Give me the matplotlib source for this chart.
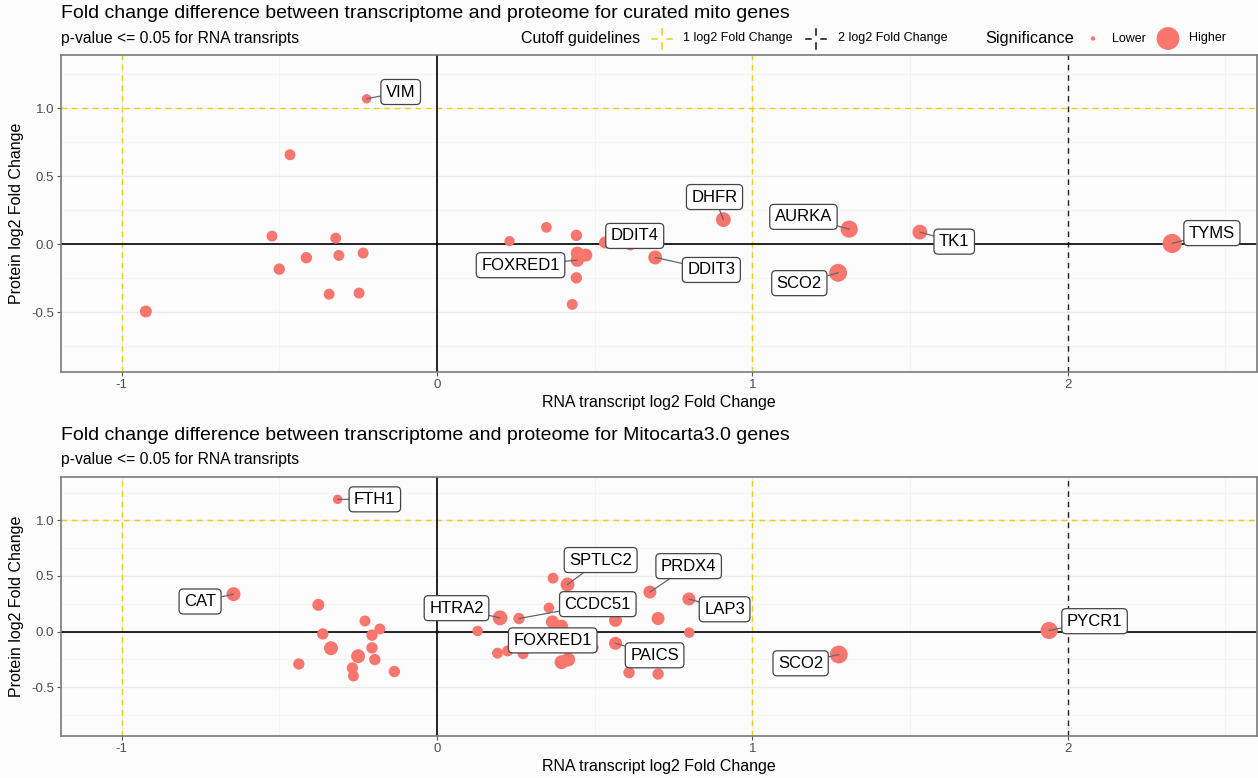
import matplotlib
matplotlib.use('Agg')
import matplotlib.pyplot as plt
from matplotlib.lines import Line2D
import numpy as np

plt.rcParams['font.family'] = ['Liberation Sans', 'DejaVu Sans']

# ---------------- data ----------------
titles = ["Fold change difference between transcriptome and proteome for curated mito genes",
          "Fold change difference between transcriptome and proteome for Mitocarta3.0 genes"]
subtitle = "p-value <= 0.05 for RNA transripts"
x_label = "RNA transcript log2 Fold Change"
y_label = "Protein log2 Fold Change"
x_ticks = [-1, 0, 1, 2]
x_tick_labels = ["-1", "0", "1", "2"]
y_ticks = [-0.5, 0.0, 0.5, 1.0]
y_tick_labels = ["-0.5", "0.0", "0.5", "1.0"]

# top panel (curated mito genes)
top_rna = [-0.223, -0.466, -0.523, -0.500, -0.414, -0.321, -0.311, -0.234, -0.342, -0.247,
           -0.923, 0.230, 0.347, 0.442, 0.445, 0.472, 0.445, 0.442, 0.429, 0.533,
           0.613, 0.692, 0.908, 1.307, 1.272, 1.531, 2.331]
top_prot = [1.068, 0.657, 0.059, -0.184, -0.100, 0.044, -0.083, -0.066, -0.368, -0.360,
            -0.495, 0.022, 0.123, 0.064, -0.066, -0.081, -0.118, -0.248, -0.443, 0.012,
            -0.005, -0.098, 0.180, 0.110, -0.211, 0.088, 0.005]
top_sig = [0.14, 0.20, 0.20, 0.22, 0.22, 0.20, 0.20, 0.20, 0.20, 0.20,
           0.25, 0.17, 0.19, 0.22, 0.30, 0.30, 0.32, 0.22, 0.20, 0.25,
           0.22, 0.35, 0.40, 0.55, 0.60, 0.40, 0.70]
top_gene = ["VIM", "", "", "", "", "", "", "", "", "",
            "", "", "", "", "", "", "FOXRED1", "", "", "DDIT4",
            "", "DDIT3", "DHFR", "AURKA", "SCO2", "TK1", "TYMS"]

# bottom panel (Mitocarta3.0 genes)
bot_rna = [-0.315, -0.645, -0.376, -0.362, -0.336, -0.438, -0.228, -0.181, -0.206, -0.206,
           -0.250, -0.197, -0.268, -0.265, -0.135, 0.129, 0.200, 0.260, 0.368, 0.414,
           0.355, 0.366, 0.395, 0.192, 0.224, 0.273, 0.495, 0.395, 0.416, 0.566,
           0.566, 0.609, 0.701, 0.675, 0.701, 0.799, 0.800, 1.274, 1.941]
bot_prot = [1.189, 0.336, 0.240, -0.022, -0.150, -0.292, 0.095, 0.023, -0.033, -0.147,
            -0.222, -0.252, -0.328, -0.400, -0.360, 0.005, 0.123, 0.117, 0.480, 0.423,
            0.213, 0.087, 0.048, -0.195, -0.175, -0.200, -0.146, -0.276, -0.252, 0.100,
            -0.106, -0.370, -0.382, 0.355, 0.117, 0.293, -0.010, -0.207, 0.009]
bot_sig = [0.14, 0.35, 0.25, 0.22, 0.35, 0.22, 0.20, 0.20, 0.22, 0.22,
           0.35, 0.22, 0.22, 0.20, 0.22, 0.18, 0.40, 0.22, 0.20, 0.35,
           0.18, 0.30, 0.30, 0.20, 0.20, 0.20, 0.20, 0.35, 0.35, 0.30,
           0.30, 0.22, 0.22, 0.30, 0.30, 0.30, 0.18, 0.60, 0.55]
bot_gene = ["FTH1", "CAT", "", "", "", "", "", "", "", "",
            "", "", "", "", "", "", "HTRA2", "CCDC51", "", "SPTLC2",
            "", "", "", "", "", "", "FOXRED1", "", "", "",
            "PAICS", "", "", "PRDX4", "", "LAP3", "", "SCO2", "PYCR1"]

# label placements (repelled positions, data units)
top_label_pos = {"VIM": (-0.115, 1.118), "DHFR": (0.88, 0.346), "DDIT4": (0.627, 0.06),
                 "FOXRED1": (0.265, -0.155), "DDIT3": (0.87, -0.19), "AURKA": (1.162, 0.20),
                 "SCO2": (1.149, -0.287), "TK1": (1.64, 0.018), "TYMS": (2.457, 0.081)}
bot_label_pos = {"FTH1": (-0.197, 1.189), "CAT": (-0.751, 0.27), "HTRA2": (0.062, 0.21),
                 "SPTLC2": (0.519, 0.643), "CCDC51": (0.51, 0.246), "PRDX4": (0.798, 0.588),
                 "LAP3": (0.912, 0.20), "FOXRED1": (0.367, -0.08), "PAICS": (0.69, -0.214),
                 "SCO2": (1.153, -0.286), "PYCR1": (2.085, 0.093)}

# ---------------- style ----------------
W, H, DPI = 1258, 778, 100
PT_COLOR = "#F8766D"
YEL = "#EDCF12"
BG = "#FCFCFC"
S_MIN, S_MAX = 10, 270


def sz(sig):
    return S_MIN + (S_MAX - S_MIN) * np.asarray(sig)


def fx(px):
    return px / W


def fy(py):
    return 1 - py / H


fig = plt.figure(figsize=(W / DPI, H / DPI), dpi=DPI, facecolor=BG)

ax_top = fig.add_axes([fx(61), fy(372), fx(1257 - 61), (372 - 55) / H])
ax_bot = fig.add_axes([fx(61), fy(736), fx(1257 - 61), (736 - 477) / H])


def draw_panel(ax, xs, ys, sig, genes, lpos):
    ax.set_facecolor(BG)
    ax.set_xlim(-1.192, 2.6)
    ax.set_ylim(-0.94, 1.39)
    ax.set_xticks(x_ticks)
    ax.set_xticklabels(x_tick_labels)
    ax.set_yticks(y_ticks)
    ax.set_yticklabels(y_tick_labels)
    ax.set_xticks([-0.5, 0.5, 1.5, 2.5], minor=True)
    ax.set_yticks([-0.75, -0.25, 0.25, 0.75, 1.25], minor=True)
    ax.tick_params(which='major', length=3, width=0.8, color='#555555',
                   labelsize=9.5, labelcolor='#4D4D4D', pad=2)
    ax.tick_params(which='minor', length=0)
    ax.grid(which='major', color='#EBEBEB', lw=0.9, zorder=0)
    ax.grid(which='minor', color='#F3F3F3', lw=0.6, zorder=0)
    ax.set_axisbelow(True)
    for sp in ax.spines.values():
        sp.set_color('#7A7A7A')
        sp.set_linewidth(1.2)
    ax.set_xlabel(x_label, fontsize=11.5, labelpad=3)
    ax.set_ylabel(y_label, fontsize=11.5, labelpad=5)
    # cutoff guidelines
    for v in (-1, 1):
        ax.axvline(v, color=YEL, lw=1.0, dashes=(4, 3.5), zorder=1)
        ax.axhline(v, color=YEL, lw=1.0, dashes=(4, 3.5), zorder=1)
    for v in (-2, 2):
        ax.axvline(v, color='#222222', lw=1.0, dashes=(4, 3.5), zorder=1)
        ax.axhline(v, color='#222222', lw=1.0, dashes=(4, 3.5), zorder=1)
    ax.axhline(0, color='black', lw=1.2, zorder=1.5)
    ax.axvline(0, color='black', lw=1.2, zorder=1.5)
    ax.scatter(xs, ys, s=sz(sig), color=PT_COLOR, edgecolors='none', zorder=3)
    for x, y, g in zip(xs, ys, genes):
        if not g:
            continue
        lx, ly = lpos[g]
        ax.annotate(g, xy=(x, y), xytext=(lx, ly), ha='center', va='center',
                    fontsize=12, color='black', zorder=5,
                    bbox=dict(boxstyle='round,pad=0.3,rounding_size=0.25', fc='white',
                              ec='#444444', lw=0.9),
                    arrowprops=dict(arrowstyle='-', color='#666666', lw=0.9,
                                    shrinkA=0, shrinkB=0))


draw_panel(ax_top, top_rna, top_prot, top_sig, top_gene, top_label_pos)
draw_panel(ax_bot, bot_rna, bot_prot, bot_sig, bot_gene, bot_label_pos)

# titles
fig.text(fx(61), fy(14), titles[0], fontsize=14, va='center', ha='left')
fig.text(fx(61), fy(38), subtitle, fontsize=11.3, va='center', ha='left')
fig.text(fx(61), fy(436), titles[1], fontsize=14, va='center', ha='left')
fig.text(fx(61), fy(460), subtitle, fontsize=11.3, va='center', ha='left')

# legend (top)
cy = 38.5
fig.text(fx(521), fy(cy), "Cutoff guidelines", fontsize=11.5, va='center', ha='left')


def cross_key(cx, color):
    segs = [((cx - 10, cx - 5), (cy, cy)), ((cx + 5, cx + 10), (cy, cy)),
            ((cx, cx), (cy - 10, cy - 4)), ((cx, cx), (cy + 4, cy + 10))]
    for (xa, xb), (ya, yb) in segs:
        fig.add_artist(Line2D([fx(xa), fx(xb)], [fy(ya), fy(yb)], color=color, lw=1.1))


cross_key(662, YEL)
fig.text(fx(683), fy(cy), "1 log2 Fold Change", fontsize=9, va='center', ha='left')
cross_key(816, '#111111')
fig.text(fx(838), fy(cy), "2 log2 Fold Change", fontsize=9, va='center', ha='left')
fig.text(fx(985), fy(cy), "Significance", fontsize=11.8, va='center', ha='left')
leg_ax = fig.add_axes([0, 0, 1, 1], facecolor='none')
leg_ax.set_xlim(0, 1)
leg_ax.set_ylim(0, 1)
leg_ax.axis('off')
leg_ax.scatter([fx(1093), fx(1168)], [fy(cy), fy(cy)], s=sz([0.0, 1.0]),
               color=PT_COLOR, edgecolors='none')
fig.text(fx(1112), fy(cy), "Lower", fontsize=9, va='center', ha='left')
fig.text(fx(1189), fy(cy), "Higher", fontsize=9, va='center', ha='left')

fig.savefig("out.png", dpi=DPI, facecolor=BG)
